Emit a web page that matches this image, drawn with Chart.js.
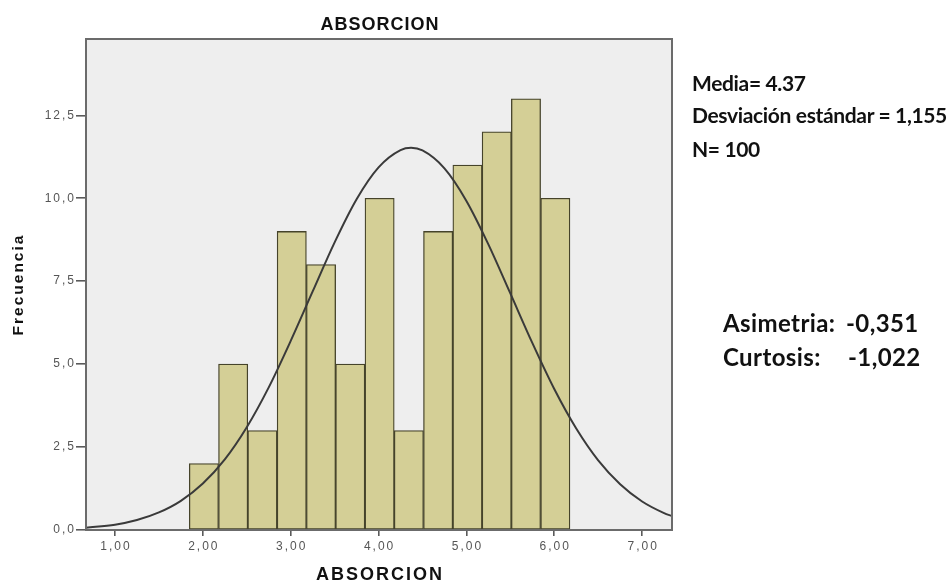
<!DOCTYPE html>
<html>
<head>
<meta charset="utf-8">
<script src="https://cdn.jsdelivr.net/npm/chart.js@4.4.1/dist/chart.umd.min.js"></script>
<style>
  html, body { margin: 0; padding: 0; background: #fff; }
  #wrap { position: relative; width: 950px; height: 583px; }
  #chart { position: absolute; left: 0; top: 0; }
  .note {
    position: absolute;
    font-family: Lato, "Open Sans", sans-serif;
    font-weight: bold;
    font-size: 21px;
    letter-spacing: -0.35px;
    color: #111;
    white-space: pre;
    line-height: 1;
  }
  .note.big { font-size: 24px; letter-spacing: 0.4px; }
</style>
</head>
<body>
<div id="wrap">
  <canvas id="chart" width="950" height="583"></canvas>
  <div class="note" style="left:692px; top:72px;">Media= 4.37</div>
  <div class="note" style="left:692px; top:104px;">Desviación estándar = 1,155</div>
  <div class="note" style="left:692px; top:138px;">N= 100</div>
  <div class="note big" style="left:723px; top:311px;">Asimetria:</div>
  <div class="note big" style="left:846px; top:311px;">-0,351</div>
  <div class="note big" style="left:848px; top:345px;">-1,022</div>
  <div class="note big" style="left:723px; top:345px;">Curtosis:</div>
</div>
<script>
// histogram bins (centre of each bin) and counts
const binCenters = [2.012, 2.345, 2.678, 3.012, 3.345, 3.678, 4.012, 4.345, 4.678, 5.012, 5.345, 5.678, 6.012];
const counts = [2, 5, 3, 9, 8, 5, 10, 3, 9, 11, 12, 13, 10];

// normal curve
const curveX = [0.67, 1.0, 1.25, 1.5, 1.75, 2.0, 2.25, 2.5, 2.75, 3.0, 3.25, 3.5, 3.75, 4.0, 4.25, 4.37,
                4.5, 4.75, 5.0, 5.25, 5.5, 5.75, 6.0, 6.25, 6.5, 6.75, 7.0, 7.25, 7.34];
const curveY = [0.07, 0.16, 0.30, 0.53, 0.88, 1.40, 2.13, 3.10, 4.30, 5.70, 7.19, 8.67, 9.97, 10.93, 11.45, 11.52,
                11.44, 10.90, 9.92, 8.61, 7.13, 5.64, 4.25, 3.06, 2.10, 1.38, 0.86, 0.51, 0.42];

const xTickValues = [1, 2, 3, 4, 5, 6, 7];
const xTickLabels = ['1,00', '2,00', '3,00', '4,00', '5,00', '6,00', '7,00'];
const yTickValues = [0, 2.5, 5, 7.5, 10, 12.5];
const yTickLabels = ['0,0', '2,5', '5,0', '7,5', '10,0', '12,5'];

const chartTitle = 'ABSORCION';
const xTitle = 'ABSORCION';
const yTitle = 'Frecuencia';

const SANS = '"Liberation Sans", Arial, sans-serif';

// grey plot background, box, and the axis text (SPSS spaces its letters out wide)
const frame = {
  id: 'frame',
  beforeDraw(chart) {
    const { ctx, chartArea: a } = chart;
    ctx.save();
    ctx.fillStyle = '#eeeeee';
    ctx.fillRect(a.left, a.top, a.right - a.left, a.bottom - a.top);
    ctx.restore();
  },
  afterDraw(chart) {
    const { ctx, chartArea: a, scales } = chart;
    ctx.save();
    ctx.strokeStyle = '#6b6b6b';
    ctx.lineWidth = 2;
    ctx.strokeRect(a.left, a.top, a.right - a.left, a.bottom - a.top);
    ctx.restore();

    ctx.save();
    ctx.letterSpacing = '2px';
    ctx.fillStyle = '#555';
    ctx.font = '12px ' + SANS;
    ctx.textBaseline = 'middle';
    ctx.textAlign = 'center';
    xTickValues.forEach((v, i) => {
      ctx.fillText(xTickLabels[i], scales.x.getPixelForValue(v) + 1, 547);
    });
    ctx.textAlign = 'right';
    yTickValues.forEach((v, i) => {
      ctx.fillText(yTickLabels[i], 76, scales.y.getPixelForValue(v));
    });

    ctx.fillStyle = '#111';
    ctx.textAlign = 'center';
    ctx.textBaseline = 'alphabetic';
    ctx.font = 'bold 18px ' + SANS;
    ctx.fillText(xTitle, (a.left + a.right) / 2 + 1, 580);
    ctx.letterSpacing = '1px';
    ctx.fillText(chartTitle, (a.left + a.right) / 2 + 1, 30);

    ctx.letterSpacing = '2px';
    ctx.font = 'bold 15.5px ' + SANS;
    ctx.textBaseline = 'middle';
    ctx.translate(19, (a.top + a.bottom) / 2);
    ctx.rotate(-Math.PI / 2);
    ctx.fillText(yTitle, 0, 0);
    ctx.restore();
  }
};

new Chart(document.getElementById('chart'), {
  type: 'bar',
  data: {
    datasets: [
      {
        type: 'line',
        data: curveX.map((x, i) => ({ x, y: curveY[i] })),
        borderColor: '#3a3a3a',
        borderWidth: 2,
        pointRadius: 0,
        fill: false,
        cubicInterpolationMode: 'monotone',
        order: 0
      },
      {
        type: 'bar',
        data: binCenters.map((x, i) => ({ x, y: counts[i] })),
        backgroundColor: '#d4cf96',
        borderColor: '#45432a',
        borderWidth: 1.3,
        borderSkipped: false,
        barPercentage: 1,
        categoryPercentage: 1,
        order: 1
      }
    ]
  },
  options: {
    responsive: false,
    animation: false,
    layout: { padding: { top: 39, right: 278, left: 0, bottom: 0 } },
    plugins: {
      legend: { display: false },
      tooltip: { enabled: false }
    },
    scales: {
      x: {
        type: 'linear',
        offset: false,
        min: 0.67,
        max: 7.34,
        afterFit: s => { s.height = 53; },
        afterBuildTicks: s => { s.ticks = xTickValues.map(v => ({ value: v })); },
        ticks: { display: false },
        grid: { offset: false, drawOnChartArea: false, drawTicks: true, tickLength: 6, color: '#5a5a5a', lineWidth: 1.6 },
        border: { display: false },
        title: { display: false }
      },
      y: {
        type: 'linear',
        min: 0,
        max: 14.8,
        afterFit: s => { s.width = 86; },
        afterBuildTicks: s => { s.ticks = yTickValues.map(v => ({ value: v })); },
        ticks: { display: false },
        grid: { drawOnChartArea: false, drawTicks: true, tickLength: 10, color: '#5a5a5a', lineWidth: 1.6 },
        border: { display: false },
        title: { display: false }
      }
    }
  },
  plugins: [frame]
});
</script>
</body>
</html>
